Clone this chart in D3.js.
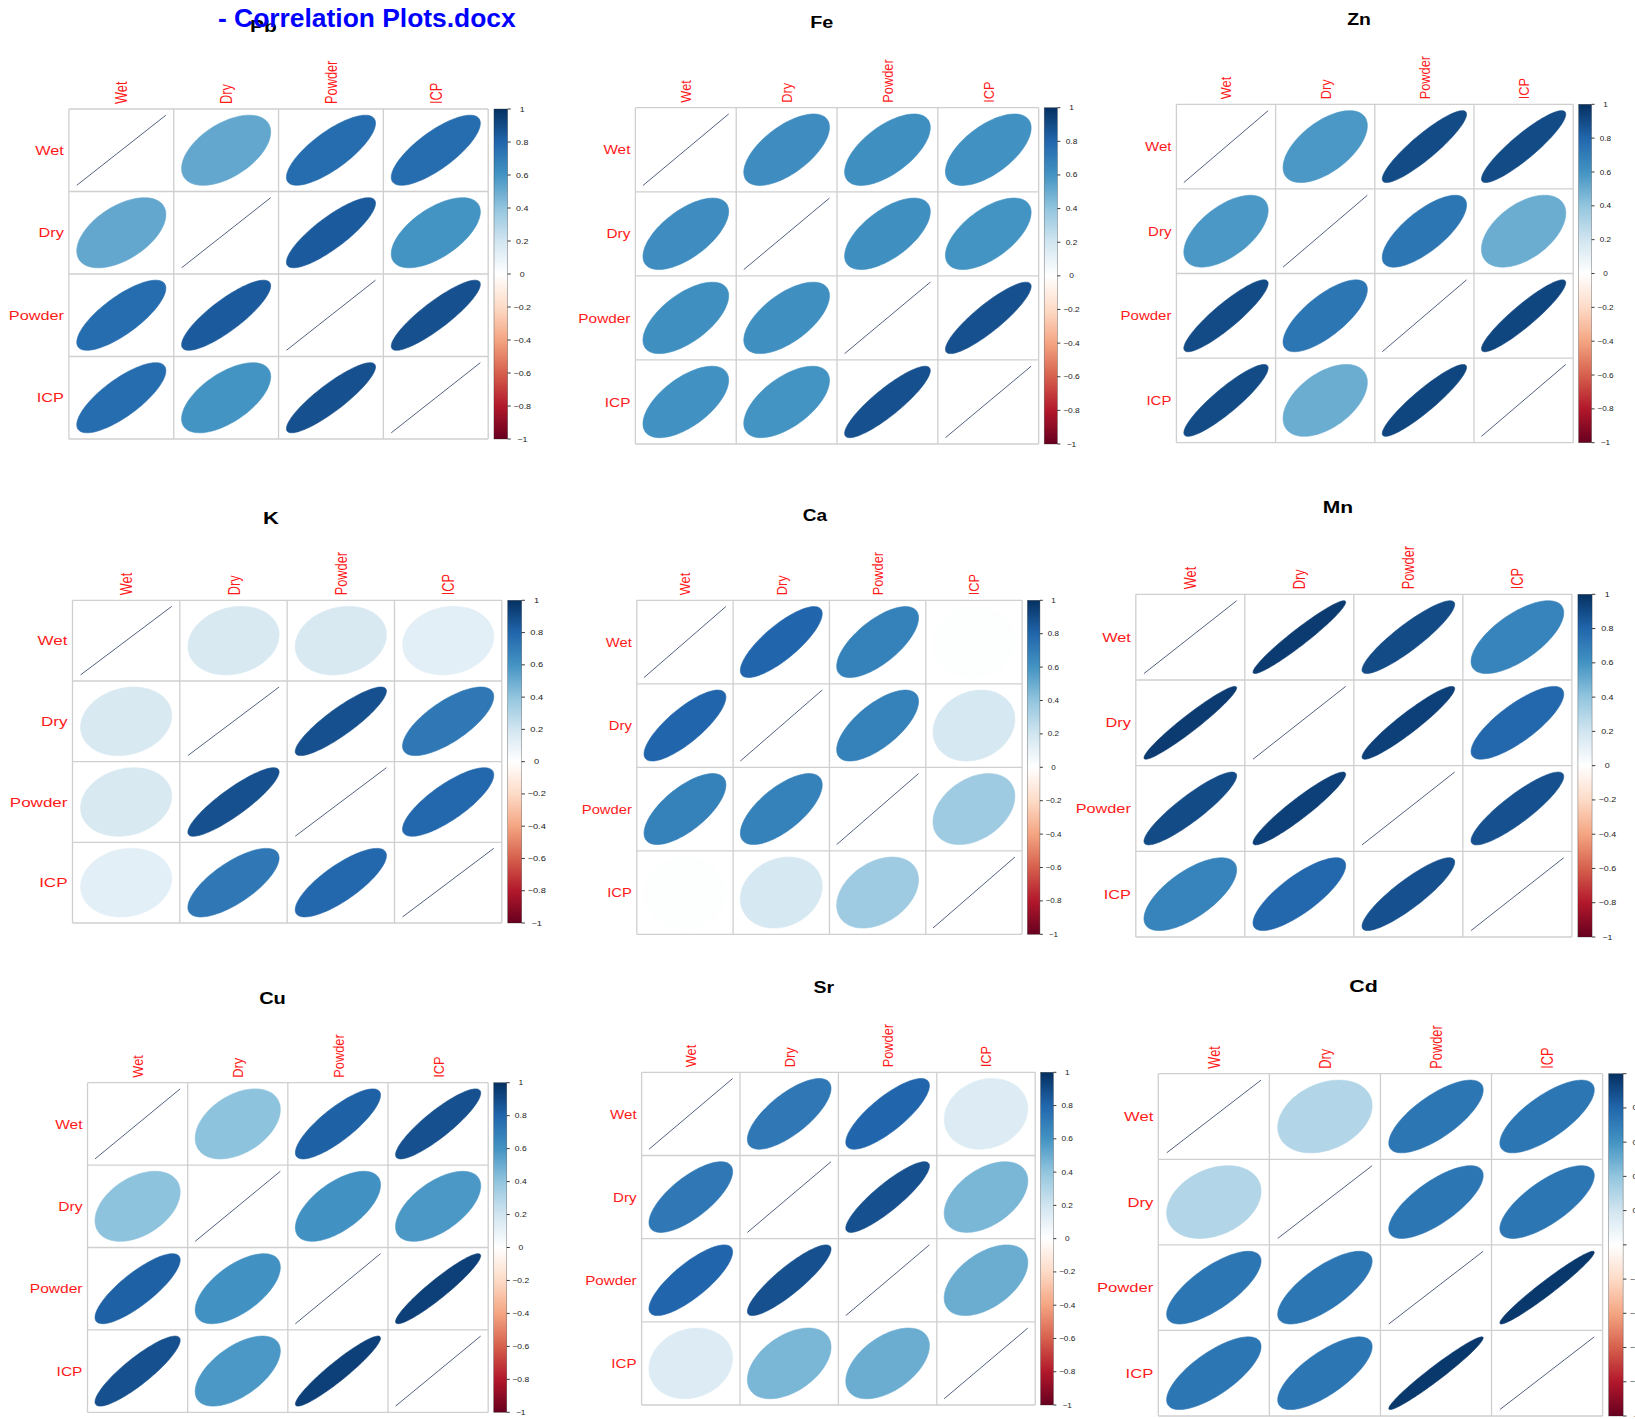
<!DOCTYPE html>
<html>
<head>
<meta charset="utf-8">
<script src="https://cdn.jsdelivr.net/npm/d3@7"></script>
<style>
  html, body { margin: 0; padding: 0; background: #ffffff; }
  svg { display: block; font-family: "Liberation Sans", Arial, Helvetica, sans-serif; }
</style>
</head>
<body>
<svg id="fig" width="1635" height="1419"></svg>
<script>
// ---- data -------------------------------------------------------------
const variables = ["Wet", "Dry", "Powder", "ICP"];
const elements = ["Pb", "Fe", "Zn", "K", "Ca", "Mn", "Cu", "Sr", "Cd"];

// pairwise correlations, order: Wet–Dry, Wet–Powder, Wet–ICP, Dry–Powder, Dry–ICP, Powder–ICP
const corPb = [0.52, 0.77, 0.77, 0.84, 0.60, 0.88];
const corFe = [0.63, 0.62, 0.61, 0.62, 0.60, 0.88];
const corZn = [0.58, 0.90, 0.90, 0.73, 0.50, 0.92];
const corK  = [0.17, 0.17, 0.12, 0.88, 0.72, 0.79];
const corCa = [0.80, 0.68, 0.01, 0.68, 0.18, 0.36];
const corMn = [0.96, 0.90, 0.67, 0.94, 0.79, 0.88];
const corCu = [0.41, 0.82, 0.88, 0.61, 0.58, 0.94];
const corSr = [0.72, 0.80, 0.15, 0.88, 0.46, 0.50];
const corCd = [0.30, 0.73, 0.73, 0.73, 0.73, 0.97];

const legendTicks = [-1, -0.8, -0.6, -0.4, -0.2, 0, 0.2, 0.4, 0.6, 0.8, 1];
const legendTickLabels = ["\u22121", "\u22120.8", "\u22120.6", "\u22120.4", "\u22120.2", "0", "0.2", "0.4", "0.6", "0.8", "1"];

const docTitle = "- Correlation Plots.docx";

// ---- styling / layout -------------------------------------------------
// RdBu diverging palette, one colour per legend tick
const palette = ["#67001F", "#B2182B", "#D6604D", "#F4A582", "#FDDBC7", "#FFFFFF",
                 "#D1E5F0", "#92C5DE", "#4393C3", "#2166AC", "#053061"];

// grid box [left, top, right, bottom] and title anchor [centre x, baseline y] of each panel
const layout = {
  Pb: { grid: [68.9, 109.0, 488.2, 439.0],   title: [263.5, 31.5] },
  Fe: { grid: [635.4, 107.7, 1038.7, 444.0], title: [821.7, 28.0] },
  Zn: { grid: [1176.4, 104.3, 1573.2, 442.7], title: [1359.0, 24.5] },
  K:  { grid: [72.5, 600.3, 501.8, 923.0],   title: [271.0, 524.0] },
  Ca: { grid: [636.8, 600.3, 1022.1, 934.3], title: [814.8, 520.5] },
  Mn: { grid: [1135.8, 594.3, 1571.9, 937.0], title: [1337.8, 513.0] },
  Cu: { grid: [87.5, 1082.7, 488.2, 1412.3], title: [272.5, 1004.0] },
  Sr: { grid: [641.6, 1072.3, 1035.2, 1405.0], title: [823.8, 993.0] },
  Cd: { grid: [1158.3, 1073.7, 1602.6, 1416.0], title: [1363.5, 992.0] }
};

const corByElement = { Pb: corPb, Fe: corFe, Zn: corZn, K: corK, Ca: corCa,
                       Mn: corMn, Cu: corCu, Sr: corSr, Cd: corCd };

const color = d3.scaleLinear().domain(legendTicks).range(palette).interpolate(d3.interpolateRgb);

const svg = d3.select("#fig");

// shared vertical gradient for the colour legends
const grad = svg.append("defs").append("linearGradient")
  .attr("id", "rdbu").attr("x1", 0).attr("y1", 1).attr("x2", 0).attr("y2", 0);
grad.selectAll("stop").data(legendTicks).join("stop")
  .attr("offset", d => (d + 1) / 2)
  .attr("stop-color", d => color(d));

// full symmetric matrix from the six pairwise values
function corMatrix(v) {
  return [
    [1,    v[0], v[1], v[2]],
    [v[0], 1,    v[3], v[4]],
    [v[1], v[3], 1,    v[5]],
    [v[2], v[4], v[5], 1   ]
  ];
}

// ellipse outline in cell units (y pointing up inside the cell)
function ellipsePoints(r) {
  const d = Math.acos(Math.max(-1, Math.min(1, r))) / 2;
  const n = 99;
  return d3.range(n).map(t => {
    const k = t / n * 2 * Math.PI;
    return [0.425 * Math.cos(k + d), 0.425 * Math.cos(k - d)];
  });
}

elements.forEach(el => {
  const L = layout[el];
  const [gx0, gy0, gx1, gy1] = L.grid;
  const x = d3.scaleBand().domain(variables).range([gx0, gx1]).paddingInner(0).paddingOuter(0);
  const y = d3.scaleBand().domain(variables).range([gy0, gy1]).paddingInner(0).paddingOuter(0);
  const cw = x.bandwidth(), ch = y.bandwidth();
  const sx = cw / ch;                       // horizontal stretch of the panel
  const px = d3.scaleLinear().domain([0, 1]).range([0, cw]);
  const py = d3.scaleLinear().domain([0, 1]).range([0, ch]);

  const m = corMatrix(corByElement[el]);
  const cells = [];
  variables.forEach((rv, i) => variables.forEach((cv, j) => cells.push({ row: rv, col: cv, r: m[i][j], diag: i === j })));

  const g = svg.append("g").attr("class", "panel panel-" + el);

  // ellipses
  const cellG = g.append("g").selectAll("g").data(cells).join("g")
    .attr("transform", d => `translate(${x(d.col) + cw / 2},${y(d.row) + ch / 2})`);

  const path = d3.line().x(p => px(p[0])).y(p => -py(p[1])).curve(d3.curveLinearClosed);

  cellG.filter(d => !d.diag).append("path")
    .attr("d", d => path(ellipsePoints(d.r)))
    .attr("fill", d => color(d.r))
    .attr("stroke", d => color(d.r))
    .attr("stroke-width", 0.6);

  cellG.filter(d => d.diag).append("line")
    .attr("x1", px(-0.425)).attr("y1", py(0.425))
    .attr("x2", px(0.425)).attr("y2", -py(0.425))
    .attr("stroke", "#54627f")
    .attr("stroke-width", 1);

  // grid
  const gridG = g.append("g").attr("stroke", "#cfcfcf").attr("stroke-width", 1.3).attr("fill", "none");
  gridG.selectAll("line.v").data(variables.concat(["end"])).join("line")
    .attr("x1", (d, i) => gx0 + i * cw).attr("x2", (d, i) => gx0 + i * cw)
    .attr("y1", gy0).attr("y2", gy1);
  gridG.selectAll("line.h").data(variables.concat(["end"])).join("line")
    .attr("y1", (d, i) => gy0 + i * ch).attr("y2", (d, i) => gy0 + i * ch)
    .attr("x1", gx0).attr("x2", gx1);

  // row labels
  g.append("g").selectAll("text").data(variables).join("text")
    .attr("transform", d => `translate(${gx0 - 5},${y(d) + ch / 2}) scale(${sx},1)`)
    .attr("text-anchor", "end")
    .attr("dy", "0.36em")
    .attr("font-size", 12.8)
    .attr("fill", "#ff1a1a")
    .text(d => d);

  // column labels
  g.append("g").selectAll("text").data(variables).join("text")
    .attr("transform", d => `translate(${x(d) + cw / 2},${gy0 - 5}) scale(${sx},1) rotate(-90)`)
    .attr("text-anchor", "start")
    .attr("dy", "0.36em")
    .attr("font-size", 12.8)
    .attr("fill", "#ff1a1a")
    .text(d => d);

  // colour legend
  const cbX = gx1 + 0.055 * cw;
  const cbW = 0.13 * cw;
  const ly = d3.scaleLinear().domain([-1, 1]).range([gy1, gy0]);
  const leg = g.append("g");
  leg.append("rect")
    .attr("x", cbX).attr("y", gy0).attr("width", cbW).attr("height", gy1 - gy0)
    .attr("fill", "url(#rdbu)")
    .attr("stroke", "rgba(40,40,40,0.55)").attr("stroke-width", 0.6);
  leg.selectAll("line").data(legendTicks).join("line")
    .attr("x1", cbX + cbW).attr("x2", cbX + cbW + 0.03 * cw)
    .attr("y1", d => ly(d)).attr("y2", d => ly(d))
    .attr("stroke", "#222").attr("stroke-width", 0.9);
  leg.selectAll("text").data(legendTicks).join("text")
    .attr("transform", d => `translate(${cbX + cbW + 0.14 * cw},${ly(d)}) scale(${sx},1)`)
    .attr("text-anchor", "middle")
    .attr("dy", "0.36em")
    .attr("font-size", 7)
    .attr("fill", "#1a1a1a")
    .text((d, i) => legendTickLabels[i]);

  // panel title
  g.append("text")
    .attr("transform", `translate(${L.title[0]},${L.title[1]}) scale(${sx},1)`)
    .attr("text-anchor", "middle")
    .attr("font-size", 16.5)
    .attr("font-weight", "bold")
    .attr("fill", "#000")
    .text(el);
});

// document caption overlapping the first panel title
svg.append("text")
  .attr("x", 218).attr("y", 26.8)
  .attr("font-size", 26.4)
  .attr("font-weight", "bold")
  .attr("fill", "#0000ff")
  .text(docTitle);
</script>
</body>
</html>
